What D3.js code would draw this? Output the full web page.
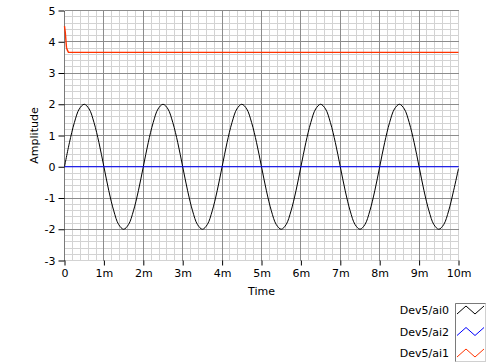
<!DOCTYPE html>
<html>
<head>
<meta charset="utf-8">
<script src="https://cdn.jsdelivr.net/npm/d3@7"></script>
<style>
  body { margin: 0; background: #fff; }
  text { font-family: "DejaVu Sans", sans-serif; font-size: 11px; fill: #000; }
</style>
</head>
<body>
<div id="chart"></div>
<script>
// time in ms
const sineTimes = d3.range(0, 81).map(i => i * 0.125);
const sineValues = [
  0, 0.77, 1.41, 1.85, 2, 1.85, 1.41, 0.77, 0, -0.77, -1.41, -1.85, -2, -1.85, -1.41, -0.77,
  0, 0.77, 1.41, 1.85, 2, 1.85, 1.41, 0.77, 0, -0.77, -1.41, -1.85, -2, -1.85, -1.41, -0.77,
  0, 0.77, 1.41, 1.85, 2, 1.85, 1.41, 0.77, 0, -0.77, -1.41, -1.85, -2, -1.85, -1.41, -0.77,
  0, 0.77, 1.41, 1.85, 2, 1.85, 1.41, 0.77, 0, -0.77, -1.41, -1.85, -2, -1.85, -1.41, -0.77,
  0, 0.77, 1.41, 1.85, 2, 1.85, 1.41, 0.77, 0, -0.77, -1.41, -1.85, -2, -1.85, -1.41, -0.77,
  -0.06
];
const blueTimes = [0, 10];
const blueValues = [0, 0];
const redTimes = [0, 0.02, 0.05, 0.07, 0.1, 10];
const redValues = [4.5, 4.3, 3.82, 3.74, 3.66, 3.66];

const xTicks = d3.range(0, 11);
const yTicks = d3.range(-3, 6);
const legendLabels = ["Dev5/ai0", "Dev5/ai2", "Dev5/ai1"];
const legendColors = ["#000000", "#0000ff", "#ff3300"];

const width = 500, height = 363;
const svg = d3.select("#chart").append("svg")
  .attr("width", width).attr("height", height);

const x = d3.scaleLinear().domain([0, 10]).range([64.5, 458.5]);
const y = d3.scaleLinear().domain([-3, 5]).range([260.5, 10.5]);

svg.append("rect")
  .attr("x", x(0)).attr("y", y(5))
  .attr("width", x(10) - x(0)).attr("height", y(-3) - y(5))
  .attr("fill", "#fff");

// minor grid
const grid = svg.append("g").attr("shape-rendering", "crispEdges");
const xMinor = d3.range(0, 51).map(i => i * 0.2);
const yMinor = d3.range(0, 41).map(i => -3 + i * 0.2);
grid.selectAll(".xm").data(xMinor).join("line")
  .attr("x1", d => x(d)).attr("x2", d => x(d))
  .attr("y1", y(5)).attr("y2", y(-3))
  .attr("stroke", "#d3d3d3");
grid.selectAll(".ym").data(yMinor).join("line")
  .attr("y1", d => y(d)).attr("y2", d => y(d))
  .attr("x1", x(0)).attr("x2", x(10))
  .attr("stroke", "#d3d3d3");

// major grid
grid.selectAll(".xM").data(xTicks.filter(d => d > 0 && d < 10)).join("line")
  .attr("x1", d => x(d)).attr("x2", d => x(d))
  .attr("y1", y(5)).attr("y2", y(-3))
  .attr("stroke", "#8c8c8c");
grid.selectAll(".yM").data(yTicks.filter(d => d > -3)).join("line")
  .attr("y1", d => y(d)).attr("y2", d => y(d))
  .attr("x1", x(0)).attr("x2", x(10))
  .attr("stroke", "#8c8c8c");
grid.append("line")
  .attr("x1", x(0)).attr("x2", x(0)).attr("y1", y(5)).attr("y2", y(-3))
  .attr("stroke", "#7a7a7a");

// axes
const xAxis = svg.append("g")
  .attr("transform", `translate(0,${y(-3)})`)
  .call(d3.axisBottom(x).tickValues(xTicks).tickSize(5).tickPadding(4)
    .tickFormat(d => d === 0 ? "0" : d + "m"));
xAxis.select(".domain").remove();
xAxis.selectAll(".tick line").attr("stroke", "#000");
xAxis.selectAll("text").style("font-family", "DejaVu Sans").style("font-size", "11px");

const yAxis = svg.append("g")
  .attr("transform", `translate(${x(0)},0)`)
  .call(d3.axisLeft(y).tickValues(yTicks).tickSize(6).tickPadding(3)
    .tickFormat(d => d < 0 ? "-" + Math.abs(d) : String(d)));
yAxis.select(".domain").remove();
yAxis.selectAll(".tick line").attr("stroke", "#000");
yAxis.selectAll("text").style("font-family", "DejaVu Sans").style("font-size", "11px");

svg.append("text")
  .attr("transform", `translate(38,${(y(5) + y(-3)) / 2}) rotate(-90)`)
  .attr("text-anchor", "middle")
  .text("Amplitude");
svg.append("text")
  .attr("x", (x(0) + x(10)) / 2).attr("y", 295)
  .attr("text-anchor", "middle")
  .text("Time");

// plots
const line = d3.line().x(d => x(d[0])).y(d => y(d[1]));
const plot = svg.append("g");
plot.append("path")
  .datum(d3.zip(sineTimes, sineValues))
  .attr("d", line.curve(d3.curveCatmullRom))
  .attr("fill", "none").attr("stroke", "#000").attr("stroke-width", 1);
plot.append("path")
  .datum(d3.zip(blueTimes, blueValues))
  .attr("d", line.curve(d3.curveLinear))
  .attr("fill", "none").attr("stroke", "#0000ff").attr("stroke-width", 1.2);
plot.append("path")
  .datum(d3.zip(redTimes, redValues))
  .attr("d", line.curve(d3.curveLinear))
  .attr("fill", "none").attr("stroke", "#ff3300").attr("stroke-width", 1.4);

// legend
const legend = svg.append("g");
legend.append("rect")
  .attr("x", 455.5).attr("y", 303.5).attr("width", 30).attr("height", 58)
  .attr("fill", "#fff").attr("stroke", "#d0d0d0");
legend.append("path")
  .attr("d", "M455.5,361.5V303.5H485.5")
  .attr("fill", "none").attr("stroke", "#7a7a7a");

legendLabels.forEach((label, i) => {
  const cy = 310 + i * 21.5;
  legend.append("text")
    .attr("x", 449).attr("y", cy + 4)
    .attr("text-anchor", "end")
    .text(label);
  legend.append("polyline")
    .attr("points", [[457, cy + 4], [466, cy - 4], [475, cy + 4], [484, cy - 4]].map(p => p.join(",")).join(" "))
    .attr("fill", "none").attr("stroke", legendColors[i]).attr("stroke-width", 1);
});
</script>
</body>
</html>
